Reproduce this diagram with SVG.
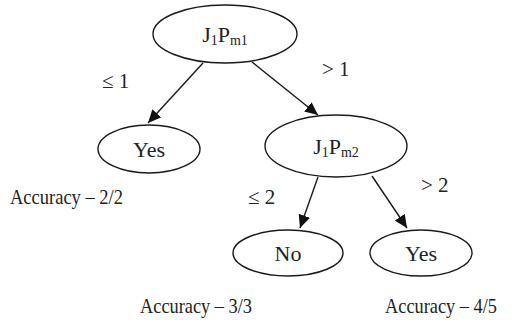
<svg xmlns="http://www.w3.org/2000/svg" width="517" height="320" viewBox="0 0 517 320">
<style>
.n{fill:#fff;stroke:#1a1a1a;stroke-width:1.4}
.t{font-family:'Liberation Serif','DejaVu Serif',serif;font-size:22px;fill:#222;text-anchor:middle}
.l{font-family:'Liberation Serif','DejaVu Serif',serif;font-size:21px;fill:#222}
.s{font-size:14px}
.e{stroke:#1a1a1a;stroke-width:1.4;fill:none;marker-end:url(#ah)}
</style>
<defs>
<marker id="ah" markerUnits="userSpaceOnUse" markerWidth="14" markerHeight="12" viewBox="0 0 14 12" refX="13" refY="6" orient="auto">
<path d="M0,0 L13,6 L0,12 Z" fill="#111"/>
</marker>
</defs>
<rect width="517" height="320" fill="#fff"/>
<g id="edges">
<line class="e" x1="203" y1="63" x2="148" y2="123"/>
<line class="e" x1="252" y1="62" x2="318" y2="115"/>
<line class="e" x1="318" y1="177" x2="300" y2="228"/>
<line class="e" x1="372" y1="176" x2="407" y2="228"/>
</g>
<g id="root">
<ellipse class="n" cx="225" cy="34" rx="72" ry="29"/>
<text class="t" x="225" y="42">J<tspan class="s" dy="3">1</tspan><tspan dy="-3">P</tspan><tspan class="s" dy="3">m1</tspan></text>
</g>
<g id="yes1">
<ellipse class="n" cx="149" cy="149" rx="51" ry="24"/>
<text class="t" x="149" y="157">Yes</text>
</g>
<g id="j1pm2">
<ellipse class="n" cx="336" cy="146" rx="71" ry="31"/>
<text class="t" x="336" y="154">J<tspan class="s" dy="3">1</tspan><tspan dy="-3">P</tspan><tspan class="s" dy="3">m2</tspan></text>
</g>
<g id="no">
<ellipse class="n" cx="288" cy="253" rx="55" ry="23"/>
<text class="t" x="288" y="261">No</text>
</g>
<g id="yes2">
<ellipse class="n" cx="421" cy="253" rx="51" ry="23"/>
<text class="t" x="421" y="261">Yes</text>
</g>
<g id="labels">
<text class="l" x="102" y="88">≤ 1</text>
<text class="l" x="322" y="76">&gt; 1</text>
<text class="l" x="248" y="204">≤ 2</text>
<text class="l" x="421" y="192">&gt; 2</text>
<text class="l" x="10" y="204" textLength="113" lengthAdjust="spacingAndGlyphs">Accuracy – 2/2</text>
<text class="l" x="140" y="313" textLength="112" lengthAdjust="spacingAndGlyphs">Accuracy – 3/3</text>
<text class="l" x="385" y="313" textLength="112" lengthAdjust="spacingAndGlyphs">Accuracy – 4/5</text>
</g>
</svg>
